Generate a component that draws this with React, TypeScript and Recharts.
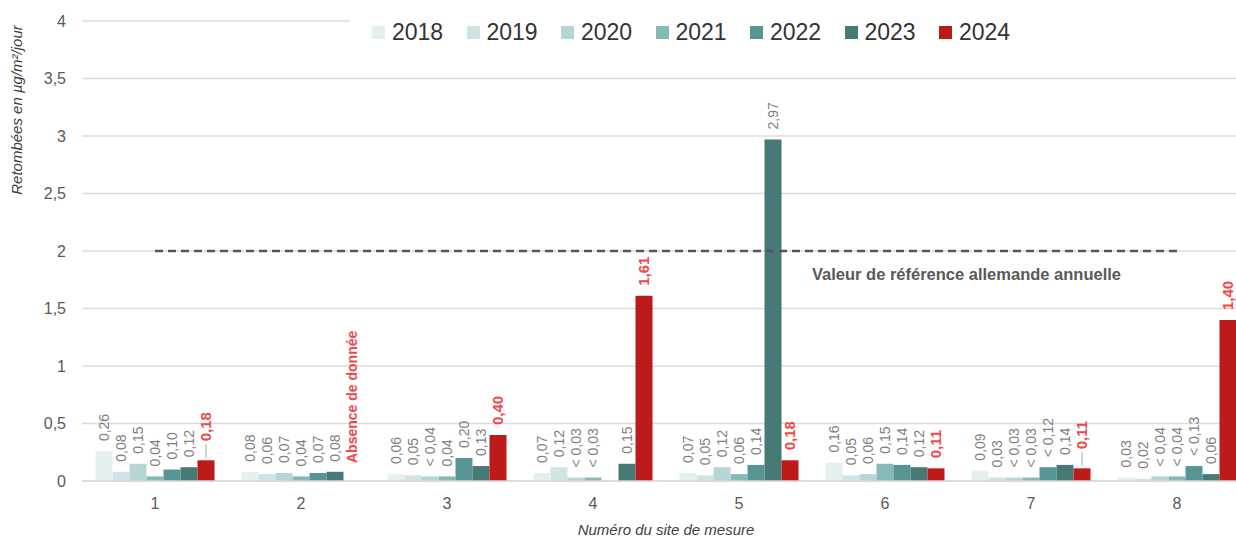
import React from "react"
import { BarChart, Bar, XAxis, YAxis, CartesianGrid, Legend, LabelList, ReferenceLine } from "recharts"

const SITES = ["1", "2", "3", "4", "5", "6", "7", "8"]
const YEARS = ["2018", "2019", "2020", "2021", "2022", "2023", "2024"]

// valeurs mesurées (µg/m²/jour), null = pas de mesure
const V2018 = [0.26, 0.08, 0.06, 0.07, 0.07, 0.16, 0.09, 0.03]
const V2019 = [0.08, 0.06, 0.05, 0.12, 0.05, 0.05, 0.03, 0.02]
const V2020 = [0.15, 0.07, 0.04, 0.03, 0.12, 0.06, 0.03, 0.04]
const V2021 = [0.04, 0.04, 0.04, 0.03, 0.06, 0.15, 0.03, 0.04]
const V2022 = [0.1, 0.07, 0.2, null, 0.14, 0.14, 0.12, 0.13]
const V2023 = [0.12, 0.08, 0.13, 0.15, 2.97, 0.12, 0.14, 0.06]
const V2024 = [0.18, null, 0.4, 1.61, 0.18, 0.11, 0.11, 1.4]

// étiquettes affichées au-dessus des barres
const L2018 = ["0,26", "0,08", "0,06", "0,07", "0,07", "0,16", "0,09", "0,03"]
const L2019 = ["0,08", "0,06", "0,05", "0,12", "0,05", "0,05", "0,03", "0,02"]
const L2020 = ["0,15", "0,07", "< 0,04", "< 0,03", "0,12", "0,06", "< 0,03", "< 0,04"]
const L2021 = ["0,04", "0,04", "0,04", "< 0,03", "0,06", "0,15", "< 0,03", "< 0,04"]
const L2022 = ["0,10", "0,07", "0,20", "", "0,14", "0,14", "< 0,12", "< 0,13"]
const L2023 = ["0,12", "0,08", "0,13", "0,15", "2,97", "0,12", "0,14", "0,06"]
const L2024 = ["0,18", "", "0,40", "1,61", "0,18", "0,11", "0,11", "1,40"]

const NO_DATA_TEXT = "Absence de donnée"
const REFERENCE_TEXT = "Valeur de référence allemande annuelle"
const Y_TICKS = [0, 0.5, 1, 1.5, 2, 2.5, 3, 3.5, 4]
const REFERENCE_VALUE = 2
const LEADER_SITES = ["1", "7"]

const VALUES: Record<string, (number | null)[]> = {
    "2018": V2018, "2019": V2019, "2020": V2020, "2021": V2021,
    "2022": V2022, "2023": V2023, "2024": V2024,
}
const LABELS: Record<string, string[]> = {
    "2018": L2018, "2019": L2019, "2020": L2020, "2021": L2021,
    "2022": L2022, "2023": L2023, "2024": L2024,
}

const COLORS: Record<string, string> = {
    "2018": "#e4f0ef",
    "2019": "#d0e4e4",
    "2020": "#b6d6d5",
    "2021": "#86b9b8",
    "2022": "#579594",
    "2023": "#477977",
    "2024": "#bd1a1a",
}

const FONT = "'Liberation Sans', Arial, sans-serif"

const data = SITES.map((site, i) => {
    const row: Record<string, any> = { site }
    YEARS.forEach((y) => {
        row["v" + y] = VALUES[y][i]
        row["l" + y] = LABELS[y][i]
    })
    return row
})

const fmt = (v: number) => String(v).replace(".", ",")

const labelKey = (year: string) => (row: any) => `${row.site}|${row["l" + year]}`

const VerticalText = ({ cx, start, text, red, size }: any) => (
    <text
        transform={`translate(${cx}, ${start}) rotate(-90)`}
        dy="0.36em"
        textAnchor="start"
        fontFamily={FONT}
        fontSize={size}
        fontWeight={red ? 700 : 400}
        fill={red ? "#ef4848" : "#7f7f7f"}
    >
        {text}
    </text>
)

const makeLabel = (year: string) => (props: any) => {
    const vb = props.viewBox ?? {}
    const x = Number(props.x ?? vb.x)
    const width = Number(props.width ?? vb.width)
    const top = Number(props.y ?? vb.y)
    const height = Number(props.height ?? vb.height)
    const [site, text] = String(props.value ?? "").split("|")
    const i = SITES.indexOf(site)
    if (isNaN(x) || isNaN(top)) return null
    const cx = x + width / 2
    const red = year === "2024"
    const leader = red && LEADER_SITES.includes(site)
    // pas de barre 2024 : la mention est posée dans l'emplacement suivant
    const noNext = year === "2023" && i >= 0 && V2024[i] == null
    return (
        <g>
            {leader && <line x1={cx} x2={cx} y1={top - 2} y2={top - 16} stroke="#a6a6a6" strokeWidth={1} />}
            {text && <VerticalText cx={cx} start={leader ? top - 19 : top - 10} text={text} red={red} size={red ? 15 : 14} />}
            {noNext && (
                <text
                    transform={`translate(${cx + width}, ${top + height - 18}) rotate(-90)`}
                    dy="0.36em"
                    textAnchor="start"
                    fontFamily={FONT}
                    fontSize={14}
                    fontWeight={700}
                    fill="#ef4848"
                >
                    {NO_DATA_TEXT}
                </text>
            )}
        </g>
    )
}

const LegendContent = () => (
    <div style={{ display: "flex", background: "#fff", height: 28, alignItems: "center", paddingLeft: 22, fontFamily: FONT }}>
        {YEARS.map((y) => (
            <div key={y} style={{ display: "flex", alignItems: "center", width: 94.5 }}>
                <span style={{ width: 13, height: 13, background: COLORS[y], marginRight: 7, display: "inline-block" }} />
                <span style={{ fontSize: 23, color: "#333", lineHeight: "28px" }}>{y}</span>
            </div>
        ))}
    </div>
)

export default function App() {
    return (
        <div style={{ position: "fixed", left: 0, top: 0, width: 1236, height: 538, overflow: "hidden", background: "#fff" }}>
            <BarChart
                width={1250}
                height={538}
                data={data}
                margin={{ top: 21, right: 0, bottom: 0, left: 0 }}
                barCategoryGap={13.5}
                barGap={0}
            >
                <CartesianGrid vertical={false} stroke="#dedcd8" strokeWidth={1.5} />
                <XAxis
                    dataKey="site"
                    height={57}
                    tickLine={false}
                    tickMargin={11}
                    axisLine={{ stroke: "#d9d9d9", strokeWidth: 1.5 }}
                    tick={{ fill: "#595959", fontSize: 16, fontFamily: FONT }}
                    label={{
                        value: "Numéro du site de mesure",
                        position: "insideBottom",
                        offset: 3,
                        fill: "#404040",
                        fontSize: 15,
                        fontStyle: "italic",
                        fontFamily: FONT,
                    }}
                />
                <YAxis
                    width={82}
                    domain={[0, 4]}
                    ticks={Y_TICKS}
                    tickFormatter={fmt}
                    axisLine={false}
                    tickLine={false}
                    tickMargin={10}
                    tick={{ fill: "#595959", fontSize: 16, fontFamily: FONT }}
                    label={{
                        content: (p: any) => {
                            const vb = p.viewBox ?? { x: 0, y: 21 }
                            return (
                                <text
                                    transform={`translate(${vb.x + 22}, ${vb.y + 89}) rotate(-90)`}
                                    textAnchor="middle"
                                    fontFamily={FONT}
                                    fontSize={15}
                                    fontStyle="italic"
                                    fill="#404040"
                                >
                                    Retombées en µg/m²/jour
                                </text>
                            )
                        },
                    }}
                />
                <Legend
                    layout="horizontal"
                    verticalAlign="middle"
                    align="center"
                    wrapperStyle={{ top: 18, left: 350, width: 900 }}
                    content={<LegendContent />}
                />
                {YEARS.map((y) => (
                    <Bar key={y} dataKey={"v" + y} name={y} fill={COLORS[y]} isAnimationActive={false}>
                        <LabelList dataKey={labelKey(y)} content={makeLabel(y)} />
                    </Bar>
                ))}
                <ReferenceLine
                    segment={[{ x: SITES[0], y: REFERENCE_VALUE }, { x: SITES[SITES.length - 1], y: REFERENCE_VALUE }]}
                    stroke="#555555"
                    strokeWidth={2.5}
                    strokeDasharray="8 5"
                    label={{
                        content: (p: any) => {
                            const vb = p.viewBox ?? {}
                            const right = Number(vb.x) + Number(vb.width ?? 0)
                            return (
                                <text
                                    x={right - 56}
                                    y={Number(vb.y) + 29}
                                    textAnchor="end"
                                    fontFamily={FONT}
                                    fontSize={16.5}
                                    fontWeight={700}
                                    fill="#595959"
                                >
                                    {REFERENCE_TEXT}
                                </text>
                            )
                        },
                    }}
                />
            </BarChart>
        </div>
    )
}
